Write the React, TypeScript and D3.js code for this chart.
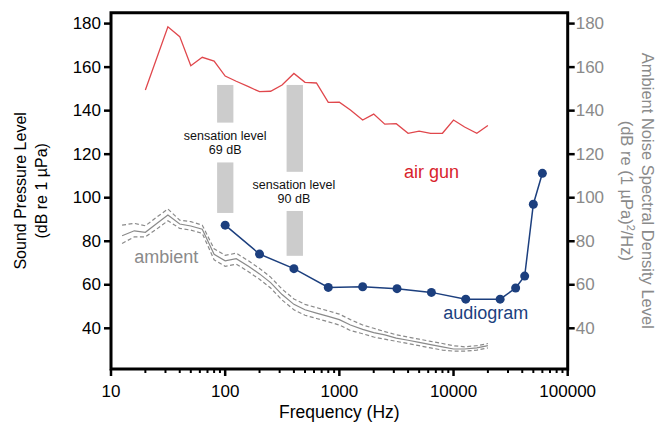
import { useEffect, useRef } from "react";
import * as d3 from "d3";

// air gun spectrum (dB re 1 µPa)
const airFreq = [20, 31.5, 40, 50, 63, 80, 100, 125, 160, 200, 250, 315, 400, 500, 630, 800, 1000, 1250, 1600, 2000, 2500, 3150, 4000, 5000, 6300, 8000, 10000, 12500, 16000, 20000];
const airLevel = [149.5, 178.5, 174, 160.6, 164.5, 162.8, 155.9, 153.5, 151, 148.7, 148.9, 151.8, 157.1, 153, 152.7, 143.8, 143.9, 140.3, 135.7, 138.4, 133.8, 134, 129.6, 130.6, 129.6, 129.6, 135.7, 132.5, 129.6, 133.2];

// audiogram thresholds
const audFreq = [100, 200, 400, 800, 1600, 3200, 6400, 12800, 25600, 35000, 42000, 50000, 60000];
const audLevel = [87.4, 74.1, 67.4, 58.8, 59.1, 58.2, 56.5, 53.4, 53.4, 58.5, 64, 97, 111.2];

// ambient noise spectral density, mean and spread
const ambFreq = [12.5, 16, 20, 25, 31.5, 40, 50, 63, 80, 100, 125, 160, 200, 250, 315, 400, 500, 630, 800, 1000, 1250, 1600, 2000, 2500, 3150, 4000, 5000, 6300, 8000, 10000, 12500, 16000, 20000];
const ambMean = [82.5, 84.8, 84.1, 88, 92, 87.9, 87, 85.5, 74, 71, 72, 68.5, 65, 61, 55.5, 51, 48.5, 47, 45.5, 44, 41.5, 39.5, 38, 37, 35.5, 34.5, 33.5, 32.5, 31.5, 30.5, 30.5, 31, 32];
const ambHigh = [87.4, 88.2, 87.1, 91, 94.8, 89.7, 89, 87.4, 76.5, 73.5, 74.5, 71, 67.5, 63.5, 58, 53.5, 51, 49.5, 48, 46.5, 44, 41.5, 40, 38.5, 37, 36, 35, 34, 33, 32, 31.5, 32, 33];
const ambLow = [79, 82, 82, 85.5, 89.4, 85.9, 85.1, 83.6, 71.5, 68.5, 69.5, 66, 62.5, 58.5, 53, 48.5, 46, 44.5, 43, 41.5, 39, 37.5, 36, 35, 34, 33, 32, 31, 30, 29.5, 29.5, 30, 31];

// sensation level bars: [f0, f1, y0, y1]
const bars = [
  [85, 118, 134.5, 151.8],
  [85, 118, 93, 116.2],
  [345, 480, 111.9, 151.8],
  [345, 480, 73.3, 93.9],
];
const barNotes = [
  { f: 100, v: 126.4, lines: ["sensation level", "69 dB"] },
  { f: 400, v: 104.1, lines: ["sensation level", "90 dB"] },
];

const yTicks = [40, 60, 80, 100, 120, 140, 160, 180];
const xTicks = [10, 100, 1000, 10000, 100000];

const FONT = "Liberation Sans, Arial, sans-serif";

export default function App() {
  const svgRef = useRef<SVGSVGElement | null>(null);

  useEffect(() => {
    const width = 662;
    const height = 433;
    const svg = d3.select(svgRef.current);
    svg.selectAll("*").remove();
    svg.attr("width", width).attr("height", height);

    const x = d3.scaleLog().domain([10, 100000]).range([111, 567.7]);
    const y = d3.scaleLinear().domain([21.3, 185]).range([369, 12.7]);

    const line = d3
      .line<[number, number]>()
      .x((d) => x(d[0]))
      .y((d) => y(d[1]));

    // sensation level bars
    bars.forEach((b) => {
      svg
        .append("rect")
        .attr("x", x(b[0]))
        .attr("y", y(b[3]))
        .attr("width", x(b[1]) - x(b[0]))
        .attr("height", y(b[2]) - y(b[3]))
        .attr("fill", "#cccccc");
    });
    barNotes.forEach((n) => {
      const t = svg
        .append("text")
        .attr("x", x(n.f))
        .attr("y", y(n.v))
        .attr("text-anchor", "middle")
        .style("font-family", FONT)
        .style("font-size", "12.5px")
        .attr("fill", "#111");
      n.lines.forEach((s, i) => {
        t.append("tspan").attr("x", x(n.f)).attr("dy", i === 0 ? 0 : 14).text(s);
      });
    });

    // ambient
    const ambStyle = [
      { vals: ambHigh, dash: "4,2.5" },
      { vals: ambLow, dash: "4,2.5" },
      { vals: ambMean, dash: null },
    ];
    ambStyle.forEach((s) => {
      svg
        .append("path")
        .attr("d", line(ambFreq.map((f, i) => [f, s.vals[i]] as [number, number])))
        .attr("fill", "none")
        .attr("stroke", "#8a8a8a")
        .attr("stroke-width", 1.2)
        .attr("stroke-dasharray", s.dash);
    });

    // air gun
    svg
      .append("path")
      .attr("d", line(airFreq.map((f, i) => [f, airLevel[i]] as [number, number])))
      .attr("fill", "none")
      .attr("stroke", "#e0474c")
      .attr("stroke-width", 1.3);

    // audiogram
    const audPts = audFreq.map((f, i) => [f, audLevel[i]] as [number, number]);
    svg
      .append("path")
      .attr("d", line(audPts))
      .attr("fill", "none")
      .attr("stroke", "#1c3f7e")
      .attr("stroke-width", 1.5);
    svg
      .selectAll(".dot")
      .data(audPts)
      .enter()
      .append("circle")
      .attr("cx", (d) => x(d[0]))
      .attr("cy", (d) => y(d[1]))
      .attr("r", 4.5)
      .attr("fill", "#1c3f7e");

    // series labels
    const labels = [
      { text: "air gun", f: 3680, v: 111.8, color: "#d8232c" },
      { text: "ambient", f: 16, v: 72.9, color: "#8a8a8a" },
      { text: "audiogram", f: 8130, v: 46.9, color: "#1c3f7e" },
    ];
    labels.forEach((l) => {
      svg
        .append("text")
        .attr("x", x(l.f))
        .attr("y", y(l.v))
        .attr("text-anchor", "start")
        .attr("dominant-baseline", "central")
        .attr("fill", l.color)
        .style("font-family", FONT)
        .style("font-size", "18px")
        .text(l.text);
    });

    // frame
    const [x0, x1] = x.range();
    const [yb, yt] = y.range();
    svg
      .append("path")
      .attr("d", `M${x0},${yb}V${yt}H${x1}V${yb}H${x0}`)
      .attr("fill", "none")
      .attr("stroke", "#000")
      .attr("stroke-width", 3)
      .attr("stroke-linecap", "square");

    // x ticks
    const minor: number[] = [];
    for (let e = 1; e < 5; e++) {
      for (let k = 2; k <= 9; k++) minor.push(k * Math.pow(10, e));
    }
    minor.forEach((f) => {
      svg
        .append("line")
        .attr("x1", x(f))
        .attr("x2", x(f))
        .attr("y1", yb)
        .attr("y2", yb + 4)
        .attr("stroke", "#000")
        .attr("stroke-width", 2);
    });
    xTicks.forEach((f) => {
      svg
        .append("line")
        .attr("x1", x(f))
        .attr("x2", x(f))
        .attr("y1", yb)
        .attr("y2", yb + 7)
        .attr("stroke", "#000")
        .attr("stroke-width", 2.5);
      svg
        .append("text")
        .attr("x", x(f))
        .attr("y", yb + 28)
        .attr("text-anchor", "middle")
        .attr("fill", "#000")
        .style("font-family", FONT)
        .style("font-size", "17px")
        .text(String(f));
    });

    // y ticks left and right
    yTicks.forEach((v) => {
      svg
        .append("line")
        .attr("x1", x0 - 7)
        .attr("x2", x0)
        .attr("y1", y(v))
        .attr("y2", y(v))
        .attr("stroke", "#000")
        .attr("stroke-width", 2.5);
      svg
        .append("text")
        .attr("x", x0 - 10)
        .attr("y", y(v))
        .attr("text-anchor", "end")
        .attr("dominant-baseline", "central")
        .attr("fill", "#000")
        .style("font-family", FONT)
        .style("font-size", "17px")
        .text(v);
      svg
        .append("line")
        .attr("x1", x1)
        .attr("x2", x1 + 7)
        .attr("y1", y(v))
        .attr("y2", y(v))
        .attr("stroke", "#000")
        .attr("stroke-width", 2.5);
      svg
        .append("text")
        .attr("x", x1 + 8)
        .attr("y", y(v))
        .attr("text-anchor", "start")
        .attr("dominant-baseline", "central")
        .attr("fill", "#8a8a8a")
        .style("font-family", FONT)
        .style("font-size", "17px")
        .text(v);
    });

    // axis titles
    const midY = (yb + yt) / 2;
    svg
      .append("text")
      .attr("x", (x0 + x1) / 2)
      .attr("y", 418)
      .attr("text-anchor", "middle")
      .style("font-family", FONT)
      .style("font-size", "17.5px")
      .text("Frequency (Hz)");

    const left = svg
      .append("text")
      .attr("transform", `translate(26,${midY}) rotate(-90)`)
      .attr("text-anchor", "middle")
      .style("font-family", FONT)
      .style("font-size", "16px");
    left.append("tspan").attr("x", 0).attr("dy", 0).text("Sound Pressure Level");
    left.append("tspan").attr("x", 0).attr("dy", 21).text("(dB re 1 µPa)");

    const right = svg
      .append("text")
      .attr("transform", `translate(642,${midY}) rotate(90)`)
      .attr("text-anchor", "middle")
      .attr("fill", "#8a8a8a")
      .style("font-family", FONT)
      .style("font-size", "16.5px");
    right.append("tspan").attr("x", 0).attr("dy", 0).text("Ambient Noise Spectral Density Level");
    const r2 = right.append("tspan").attr("x", 0).attr("dy", 21);
    r2.append("tspan").text("(dB re (1 µPa)");
    r2.append("tspan").attr("dy", -6).style("font-size", "11px").text("2");
    r2.append("tspan").attr("dy", 6).text("/Hz)");
  }, []);

  return (
    <div style={{ position: "absolute", left: 0, top: 0 }}>
      <svg ref={svgRef}></svg>
    </div>
  );
}
